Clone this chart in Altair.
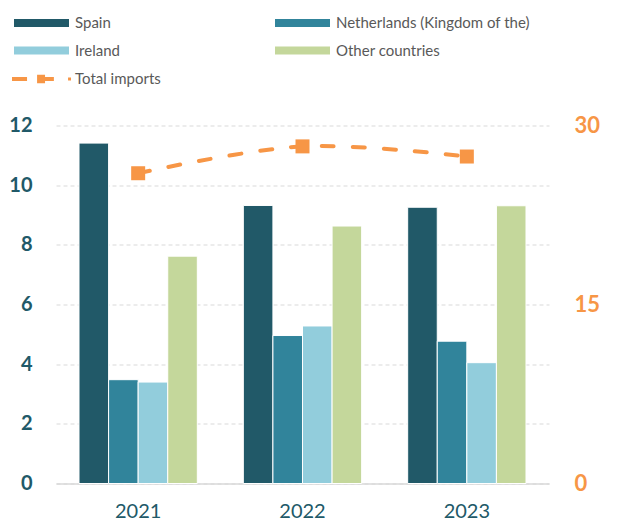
import altair as alt
import pandas as pd

years = ["2021", "2022", "2023"]
countries = ["Spain", "Netherlands (Kingdom of the)", "Ireland", "Other countries"]
spain = [11.41, 9.32, 9.26]
netherlands = [3.48, 4.96, 4.77]
ireland = [3.40, 5.28, 4.05]
other = [7.62, 8.63, 9.31]
total_imports = [26.0, 28.25, 27.4]
colors = ["#215968", "#31849B", "#92CDDC", "#C4D79B"]
orange = "#F79646"
teal_text = "#215968"

rows = []
for series_name, vals in zip(countries, [spain, netherlands, ireland, other]):
    for y, v in zip(years, vals):
        rows.append({"year": y, "country": series_name, "value": v})
bar_df = pd.DataFrame(rows)
tot_df = pd.DataFrame({"year": years, "total": total_imports, "series": ["Total imports"] * 3})

FONT = "Lato"
bar_symbol = "M-1,-0.145H1V0.145H-1Z"
line_symbol = ("M-1,-0.07H-0.49V0.07H-1Z "
               "M-0.15,-0.14H0.12V0.14H-0.15Z "
               "M0.12,-0.07H0.42V0.07H0.12Z "
               "M0.9,-0.05H1V0.05H0.9Z")

x_enc = alt.X(
    "year:N",
    sort=years,
    scale=alt.Scale(paddingInner=0.28, paddingOuter=0.14),
    axis=alt.Axis(title=None, labelAngle=0, labelFont=FONT, labelFontSize=20,
                  labelColor=teal_text, labelPadding=18, ticks=False,
                  domainColor="#D9D9D9", domainWidth=1.5),
)

bars = alt.Chart(bar_df).mark_bar(stroke="white", strokeWidth=1).encode(
    x=x_enc,
    xOffset=alt.XOffset("country:N", sort=countries, scale=alt.Scale(paddingInner=0)),
    y=alt.Y("value:Q", scale=alt.Scale(domain=[0, 12], nice=False),
            axis=alt.Axis(title=None, values=[0, 2, 4, 6, 8, 10, 12], grid=True,
                          gridDash=[4, 3], gridColor="#D9D9D9", gridWidth=1.2,
                          domain=False, ticks=False, labelFont=FONT,
                          labelFontWeight="bold", labelFontSize=20,
                          labelColor=teal_text, labelPadding=24)),
    color=alt.Color("country:N", sort=countries,
                    scale=alt.Scale(domain=countries, range=colors),
                    legend=alt.Legend(title=None, orient="none", legendX=-42, legendY=-112.5,
                                      direction="horizontal",
                                      columns=2, columnPadding=155, rowPadding=7.5,
                                      clipHeight=20, labelLimit=400,
                                      symbolType=bar_symbol, symbolSize=3025,
                                      symbolStrokeWidth=0, labelFont=FONT,
                                      labelFontSize=15, labelColor="#595959",
                                      labelOffset=6, padding=0)),
)

right_axis = alt.Axis(title=None, orient="right", values=[0, 15, 30], grid=False,
                      domain=False, ticks=False, labelFont=FONT,
                      labelFontWeight="bold", labelFontSize=22,
                      labelColor=orange, labelPadding=25)

line = alt.Chart(tot_df).mark_line(
    color=orange, strokeWidth=4, strokeDash=[12, 19], strokeCap="round",
    interpolate="catmull-rom"
).encode(
    x=alt.X("year:N", sort=years),
    y=alt.Y("total:Q", scale=alt.Scale(domain=[0, 30], nice=False), axis=right_axis),
)

points = alt.Chart(tot_df).mark_point(shape="square", filled=True, size=196, opacity=1).encode(
    x=alt.X("year:N", sort=years),
    y=alt.Y("total:Q", scale=alt.Scale(domain=[0, 30], nice=False), axis=right_axis),
    fill=alt.Fill("series:N", scale=alt.Scale(range=[orange]),
                  legend=alt.Legend(title=None, orient="none", legendX=-44, legendY=-56.5,
                                    clipHeight=20, labelLimit=300,
                                    symbolType=line_symbol, symbolSize=3481,
                                    symbolStrokeWidth=0, labelFont=FONT,
                                    labelFontSize=15, labelColor="#595959",
                                    labelOffset=4, padding=0)),
)

chart = alt.layer(bars, alt.layer(line, points)).resolve_scale(
    y="independent"
).properties(
    width=493, height=358,
    padding={"left": 0, "top": 4.5, "right": 5, "bottom": 0},
).configure(font=FONT, view=alt.ViewConfig(stroke=None))

chart.save("out.html", embed_options={"renderer": "svg", "actions": False})
